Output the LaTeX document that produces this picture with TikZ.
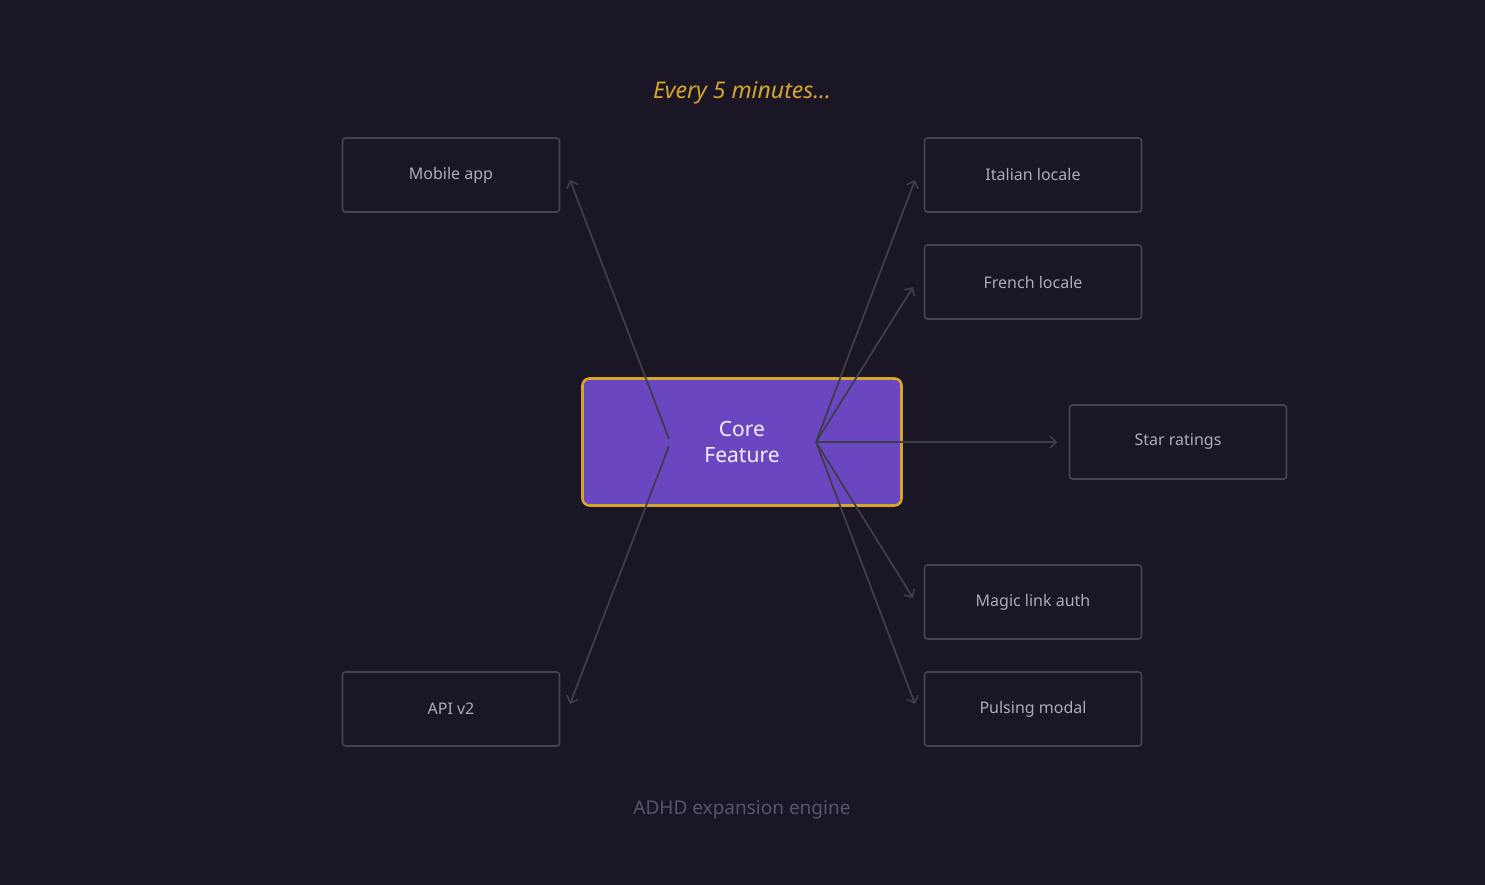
\documentclass[tikz,border=0pt]{standalone}
\usepackage{fontspec}
\setmainfont{Noto Sans}
\usetikzlibrary{arrows.meta,positioning}
\definecolor{bgc}{HTML}{1A1625}
\definecolor{boxline}{HTML}{42444F}
\definecolor{boxtext}{HTML}{ADADB5}
\definecolor{wire}{HTML}{3C3E4B}
\definecolor{corefill}{HTML}{6B46C1}
\definecolor{gold}{HTML}{D4A72C}
\definecolor{foot}{HTML}{535769}

\begin{document}
\begin{tikzpicture}[
  x=1pt, y=-1pt,
  > = {Straight Barb[length=6pt,width=12pt,line width=1.6pt]},
  leaf/.style = {draw=boxline, line width=1.6pt, fill=bgc, rounded corners=3pt,
    minimum width=217pt, minimum height=74pt, text=boxtext, font=\fontsize{16}{19}\selectfont},
  core/.style = {draw=gold, line width=2.6pt, fill=corefill, rounded corners=7pt,
    minimum width=319pt, minimum height=127pt, text=white!92!corefill,
    font=\bfseries\fontsize{21}{26}\selectfont, align=center},
  wire/.style = {draw=wire, line width=1.8pt, ->}
  ]
	\fill[bgc] (0,0) rectangle (1485,885);
	\useasboundingbox (0,0) rectangle (1485,885);

	\node[text=gold, font=\itshape\fontsize{23}{28}\selectfont] (title) at (742,93) {Every 5 minutes...};
	\node[text=foot, font=\fontsize{19}{23}\selectfont] (footer) at (742,810) {ADHD expansion engine};

	\node[core] (feature) at (742,442) {Core\\Feature};

	\node[leaf] (mobile) at (451,175) {Mobile app};
	\node[leaf] (api) at (451,709) {API v2};
	\node[leaf] (italian) at (1033,175) {Italian locale};
	\node[leaf] (french) at (1033,282) {French locale};
	\node[leaf] (stars) at (1178,442) {Star ratings};
	\node[leaf] (magic) at (1033,602) {Magic link auth};
	\node[leaf] (modal) at (1033,709) {Pulsing modal};

	\coordinate (@lu) at (669,439);
	\coordinate (@ld) at (669,446);
	\coordinate (@r) at (816,442);

	\coordinate (@mobile) at (570,180);
	\coordinate (@api) at (570,704);
	\coordinate (@italian) at (915,180);
	\coordinate (@french) at (913,287);
	\coordinate (@stars) at (1057,442);
	\coordinate (@magic) at (913,598);
	\coordinate (@modal) at (915,704);

	\draw[wire] (@lu) -- (@mobile);
	\draw[wire] (@ld) -- (@api);
	\draw[wire] (@r) -- (@italian);
	\draw[wire] (@r) -- (@french);
	\draw[wire] (@r) -- (@stars);
	\draw[wire] (@r) -- (@magic);
	\draw[wire] (@r) -- (@modal);

\end{tikzpicture}
\end{document}
